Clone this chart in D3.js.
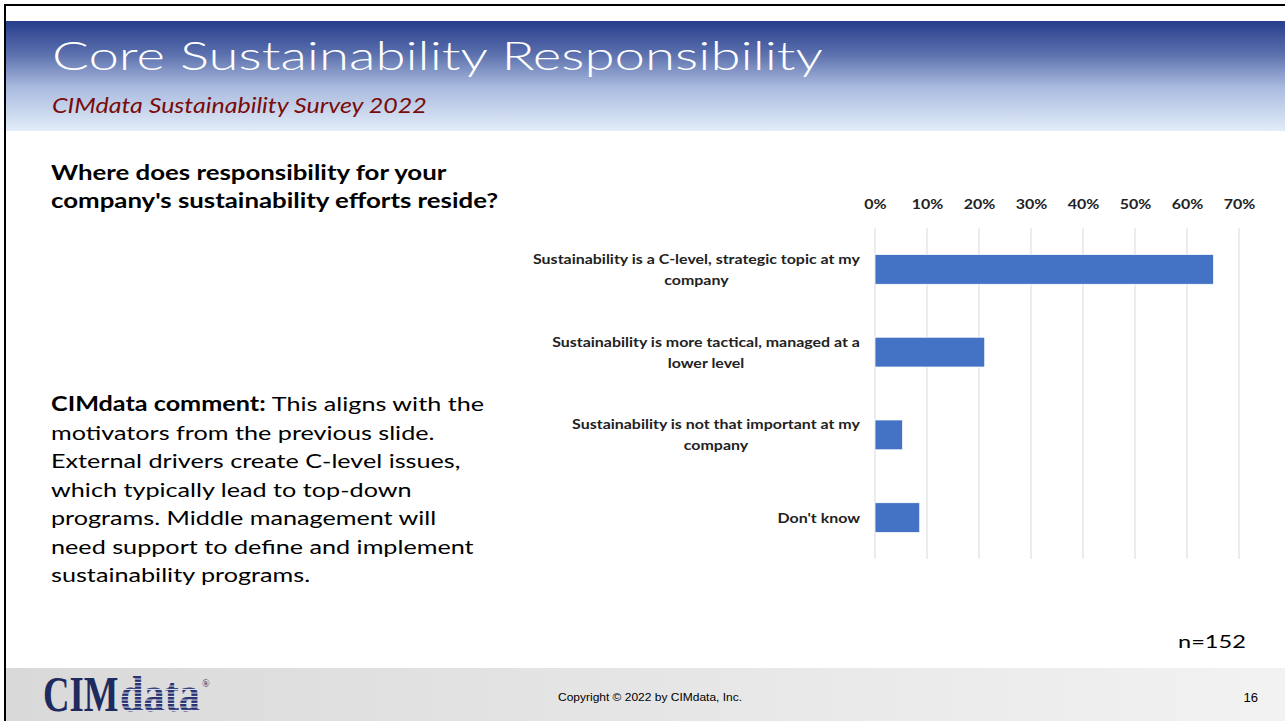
<!DOCTYPE html>
<html>
<head>
<meta charset="utf-8">
<script src="https://cdn.jsdelivr.net/npm/d3@7"></script>
<style>
  body { margin: 0; background: #fff; }
  svg { display: block; }
</style>
</head>
<body>
<div id="chart-area"></div>
<script>
// survey answers, top to bottom
const categories = [
    "Sustainability is a C-level, strategic topic at my\ncompany",
    "Sustainability is more tactical, managed at a\nlower level",
    "Sustainability is not that important at my\ncompany",
    "Don't know"
];
const shares = [0.651, 0.211, 0.053, 0.086];
const tickValues = [0, 0.1, 0.2, 0.3, 0.4, 0.5, 0.6, 0.7];

const questionLines = [
    "Where does responsibility for your",
    "company's sustainability efforts reside?"
];
const commentLines = [
    "This aligns with the",
    "motivators from the previous slide.",
    "External drivers create C-level issues,",
    "which typically lead to top-down",
    "programs. Middle management will",
    "need support to define and implement",
    "sustainability programs."
];

const W = 1285, H = 721;
const font = "Lato, 'Open Sans', sans-serif";

// the slide is stretched sideways, so text gets a horizontal scale
const place = (sel, x, y, sx) => sel.attr("transform", `translate(${x},${y}) scale(${sx},1)`);

const svg = d3.select("#chart-area")
    .append("svg")
    .attr("width", W)
    .attr("height", H);

const defs = svg.append("defs");

const headGrad = defs.append("linearGradient")
    .attr("id", "head-grad")
    .attr("x1", 0).attr("y1", 0).attr("x2", 0).attr("y2", 1);
headGrad.append("stop").attr("offset", "0%").attr("stop-color", "#283d8c");
headGrad.append("stop").attr("offset", "30%").attr("stop-color", "#5b70ad");
headGrad.append("stop").attr("offset", "60%").attr("stop-color", "#a9bade");
headGrad.append("stop").attr("offset", "100%").attr("stop-color", "#e2edf9");

const footGrad = defs.append("linearGradient")
    .attr("id", "foot-grad")
    .attr("x1", 0).attr("y1", 0).attr("x2", 1).attr("y2", 0);
footGrad.append("stop").attr("offset", "0%").attr("stop-color", "#d9d9d9");
footGrad.append("stop").attr("offset", "100%").attr("stop-color", "#f2f2f2");

// striped fill for the "data" part of the logo
const stripes = defs.append("pattern")
    .attr("id", "stripes")
    .attr("patternUnits", "userSpaceOnUse")
    .attr("width", 4).attr("height", 3.5);
stripes.append("rect").attr("width", 4).attr("height", 3.5).attr("fill", "#e6e6ee");
stripes.append("rect").attr("width", 4).attr("height", 2.5).attr("fill", "#263170");

// slide frame
svg.append("rect").attr("x", 0).attr("y", 0).attr("width", W).attr("height", H).attr("fill", "#fff");
svg.append("line").attr("x1", 4).attr("x2", W).attr("y1", 5).attr("y2", 5)
    .attr("stroke", "#000").attr("stroke-width", 2);
svg.append("line").attr("x1", 5).attr("x2", 5).attr("y1", 4).attr("y2", H)
    .attr("stroke", "#000").attr("stroke-width", 2);

// header band
svg.append("rect")
    .attr("x", 6).attr("y", 21).attr("width", W - 6).attr("height", 110)
    .attr("fill", "url(#head-grad)");

svg.append("text")
    .call(place, 52, 70, 1.4)
    .style("font-family", font)
    .style("font-weight", 300)
    .style("font-size", "39px")
    .attr("fill", "#fff")
    .text("Core Sustainability Responsibility");

svg.append("text")
    .call(place, 52, 113, 1.19)
    .style("font-family", font)
    .style("font-style", "italic")
    .style("font-size", "21px")
    .attr("fill", "#7a0b0b")
    .text("CIMdata Sustainability Survey 2022");

// left column text
svg.append("g").selectAll("text")
    .data(questionLines)
    .join("text")
    .each(function(d, i) { d3.select(this).call(place, 51, 180 + i * 28, 1.23); })
    .style("font-family", font)
    .style("font-weight", "bold")
    .style("font-size", "21px")
    .attr("fill", "#000")
    .text(d => d);

svg.append("g").selectAll("text")
    .data(commentLines)
    .join("text")
    .style("font-family", font)
    .style("font-size", "20px")
    .attr("fill", "#000")
    .each(function(d, i) {
        const t = d3.select(this).call(place, 51, 411 + i * 28.5, 1.26);
        if (i === 0) {
            t.append("tspan").style("font-weight", "bold").text("CIMdata comment: ");
        }
        t.append("tspan").text(d);
    });

// chart
const plot = { left: 875, right: 1239, top: 228, bottom: 559 };
const labelScale = 1.14;

const xScale = d3.scaleLinear()
    .domain([0, 0.7])
    .range([plot.left, plot.right]);

const yScale = d3.scaleBand()
    .domain(categories)
    .range([plot.top, plot.bottom])
    .paddingInner(0.64)
    .paddingOuter(0.32);

const chart = svg.append("g");

const xAxis = d3.axisTop(xScale)
    .tickValues(tickValues)
    .tickSize(0)
    .tickPadding(0)
    .tickFormat(d3.format(".0%"));

chart.append("g")
    .attr("class", "x-axis")
    .attr("transform", "translate(0, 209)")
    .call(xAxis)
    .call(g => g.select(".domain").remove())
    .selectAll("text")
    .attr("transform", `scale(${labelScale},1)`)
    .style("font-family", font)
    .style("font-weight", "bold")
    .style("font-size", "14px")
    .attr("fill", "#222");

// grid lines
chart.append("g")
    .selectAll("line")
    .data(tickValues)
    .join("line")
    .attr("x1", d => xScale(d))
    .attr("x2", d => xScale(d))
    .attr("y1", plot.top)
    .attr("y2", plot.bottom)
    .attr("stroke", "#d9d9d9")
    .attr("stroke-width", 1);

chart.append("g")
    .selectAll("rect")
    .data(categories)
    .join("rect")
    .attr("x", xScale(0))
    .attr("y", d => yScale(d))
    .attr("width", (d, i) => xScale(shares[i]) - xScale(0))
    .attr("height", yScale.bandwidth())
    .attr("fill", "#4472c4")
    .attr("stroke", "#fff")
    .attr("stroke-width", 0.75);

// category labels: lines centred in a right-aligned box
const labels = chart.append("g");
categories.forEach(cat => {
    const lines = cat.split("\n");
    const cy = yScale(cat) + yScale.bandwidth() / 2;
    const lh = 21;
    const t = labels.append("text")
        .style("font-family", font)
        .style("font-weight", "bold")
        .style("font-size", "14px")
        .attr("fill", "#222")
        .attr("text-anchor", "middle");
    lines.forEach((ln, i) => {
        t.append("tspan")
            .attr("x", 0)
            .attr("y", (i - (lines.length - 1) / 2) * lh + 5)
            .text(ln);
    });
    let maxW = 0;
    t.selectAll("tspan").each(function() {
        maxW = Math.max(maxW, this.getComputedTextLength());
    });
    t.call(place, 860 - maxW * labelScale / 2, cy, labelScale);
});

svg.append("text")
    .call(place, 1178, 648, 1.31)
    .style("font-family", font)
    .style("font-size", "18px")
    .attr("fill", "#000")
    .text("n=152");

// footer
svg.append("rect")
    .attr("x", 6).attr("y", 668).attr("width", W - 6).attr("height", H - 668)
    .attr("fill", "url(#foot-grad)");

const logoFont = "'Liberation Serif', 'Times New Roman', serif";
svg.append("text")
    .call(place, 43, 711, 0.72)
    .style("font-family", logoFont)
    .style("font-weight", "bold")
    .style("font-size", "51px")
    .attr("fill", "#1f2a5e")
    .text("CIM");
svg.append("text")
    .call(place, 120, 711, 0.83)
    .style("font-family", logoFont)
    .style("font-weight", "bold")
    .style("font-size", "51px")
    .attr("fill", "url(#stripes)")
    .text("data");
svg.append("text")
    .attr("x", 202).attr("y", 687)
    .style("font-family", logoFont)
    .style("font-size", "10px")
    .attr("fill", "#1f2a5e")
    .text("®");

svg.append("text")
    .call(place, 558, 701, 1.2)
    .style("font-family", "'Liberation Sans', Arial, sans-serif")
    .style("font-size", "10px")
    .attr("fill", "#000")
    .text("Copyright © 2022 by CIMdata, Inc.");

svg.append("text")
    .attr("x", 1258).attr("y", 702)
    .attr("text-anchor", "end")
    .style("font-family", "'Liberation Sans', Arial, sans-serif")
    .style("font-size", "13px")
    .attr("fill", "#000")
    .text("16");
</script>
</body>
</html>
